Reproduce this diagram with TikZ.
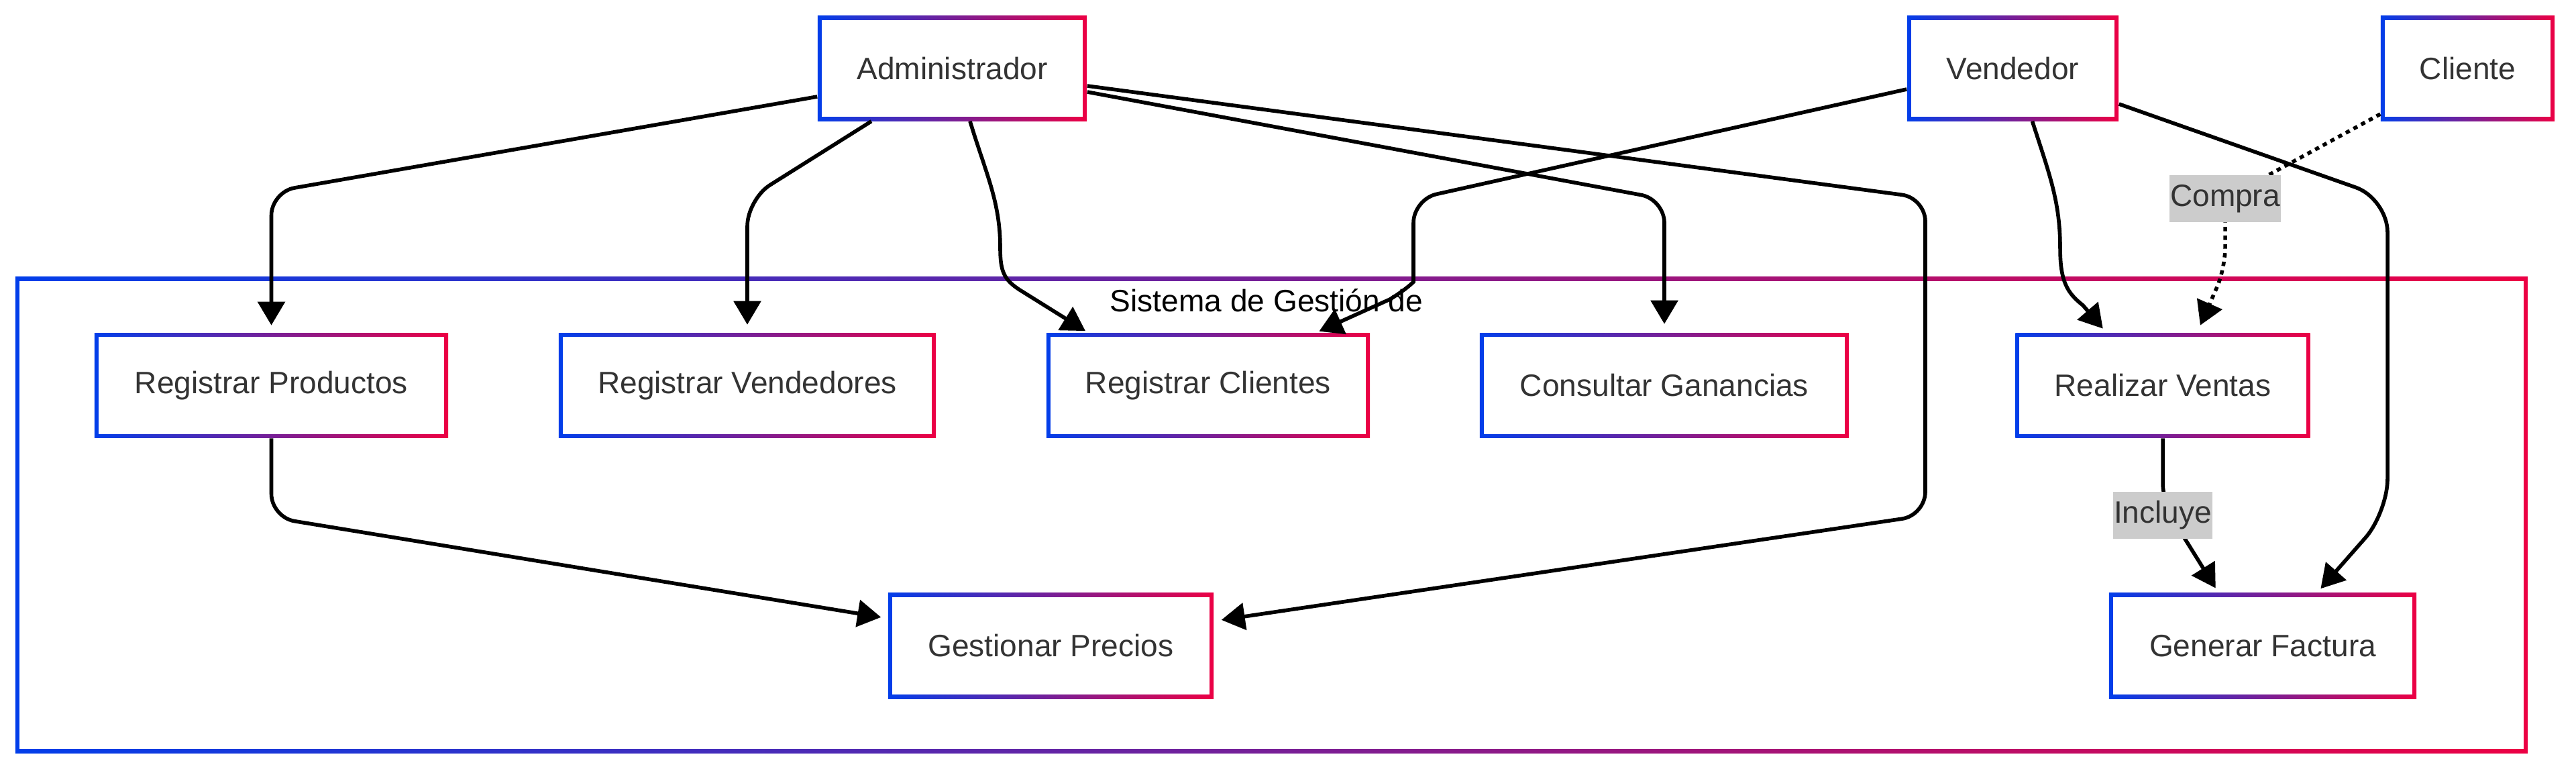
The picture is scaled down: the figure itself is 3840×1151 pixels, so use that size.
\documentclass[tikz,border=0pt]{standalone}
\usepackage{fontspec}
\setmainfont{Liberation Sans}
\usetikzlibrary{arrows.meta}
\definecolor{gblue}{RGB}{2,62,234}
\definecolor{gred}{RGB}{236,0,68}
\definecolor{txt}{HTML}{333333}
\definecolor{lblgray}{HTML}{CCCCCC}
\newcommand\dgfont{\fontsize{13.1pt}{15.7pt}\selectfont}
\tikzset{
  gbox/.style={rectangle, inner sep=0pt, minimum height=1.56cm,
    left color=gblue, right color=gred, text=txt, font=\dgfont,
    path picture={\fill[white]
      ([xshift=0.06cm,yshift=-0.06cm]path picture bounding box.north west)
      rectangle
      ([xshift=-0.06cm,yshift=0.06cm]path picture bounding box.south east);}},
  arr/.style={draw=black, line width=0.056cm, -{Triangle[length=0.35cm,width=0.40cm]}},
  dotarr/.style={arr, dash pattern=on 0.065cm off 0.065cm},
  elabel/.style={fill=lblgray, text=txt, font=\dgfont, inner xsep=0.01cm, inner ysep=0pt, minimum height=0.70cm},
}
\begin{document}
\begin{tikzpicture}[x=0.01cm, y=-0.01cm]
\useasboundingbox[fill=white] (0,0) rectangle (3840,1151);

% cluster
\node[gbox, minimum width=37.43cm, minimum height=7.09cm] (sys) at (1895.5,767.5) {};
\node[anchor=base, font=\dgfont, text=black] (title) at (1888,464) {Sistema de Gestión de};

% actors
\node[gbox, minimum width=4.01cm] (A) at (1419.5,102) {Administrador};
\node[gbox, minimum width=3.15cm] (V) at (3000.5,102) {Vendedor};
\node[gbox, minimum width=2.59cm] (Cl) at (3678.5,102) {Cliente};

% use cases
\node[gbox, minimum width=5.27cm] (RP) at (404.5,574.5) {Registrar Productos};
\node[gbox, minimum width=5.62cm] (RVd) at (1114,574.5) {Registrar Vendedores};
\node[gbox, minimum width=4.82cm] (RC) at (1801,574.5) {Registrar Clientes};
\node[gbox, minimum width=5.50cm] (CG) at (2481,574.5) {Consultar Ganancias};
\node[gbox, minimum width=4.39cm] (RVt) at (3224,574.5) {Realizar Ventas};
\node[gbox, minimum width=4.85cm, minimum height=1.57cm] (GP) at (1566.5,962.5) {Gestionar Precios};
\node[gbox, minimum width=4.58cm, minimum height=1.57cm] (GF) at (3373,962.5) {Generar Factura};

% edges from Administrador
\draw[arr, rounded corners=0.35cm, shorten >=0.11cm]
  ([yshift=-0.42cm]A.west) -- (404.5,286) -- (RP.north);
\draw[arr, rounded corners=0.4cm, shorten >=0.12cm]
  ([xshift=-1.205cm]A.south) -- (1114,297) -- (RVd.north);
\draw[arr, shorten >=0.05cm]
  ([xshift=0.265cm]A.south) .. controls (1470,260) and (1491,300) .. (1491,370)
  .. controls (1491,405) and (1497,417) .. (1520,432) -- ([xshift=0.63cm]RC.north west);
\draw[arr, rounded corners=0.35cm, shorten >=0.13cm]
  ([yshift=-0.35cm]A.east) -- (2481,297) -- (CG.north);
\draw[arr, rounded corners=0.35cm, shorten >=0.11cm]
  ([yshift=-0.26cm]A.east) -- (2870,295) -- (2870,768) -- ([yshift=0.37cm]GP.east);

% edges from Vendedor
\draw[arr, shorten >=0.05cm]
  ([yshift=-0.31cm]V.west) [rounded corners=0.35cm] -- (2107,297) -- (2107,385) [sharp corners]
  .. controls (2107,420) and (2098,430) .. (2072,446) -- ([xshift=-0.81cm]RC.north east);
\draw[arr, shorten >=0.08cm]
  ([xshift=0.29cm]V.south) .. controls (3055,260) and (3071,300) .. (3071,370)
  .. controls (3071,420) and (3082,437) .. (3105,455) -- ([xshift=-0.84cm]RVt.north);
\draw[arr, rounded corners=0.5cm, shorten >=0.08cm]
  ([yshift=-0.53cm]V.east) -- (3559,296) -- (3559,764) -- ([xshift=0.81cm]GF.north);

% Cliente -> Realizar Ventas
\draw[dotarr, rounded corners=0.3cm, shorten >=0.12cm]
  ([yshift=-0.68cm]Cl.west) -- (3317,296) -- (3317,400) -- ([xshift=0.51cm]RVt.north);
\node[elabel] (compra) at (3317,296) {Compra};

% Realizar Ventas -> Generar Factura
\draw[arr, rounded corners=0.3cm, shorten >=0.08cm]
  (RVt.south) -- (3224,750) -- ([xshift=-0.66cm]GF.north);
\node[elabel] (incluye) at (3224,768) {Incluye};

% Registrar Productos -> Gestionar Precios
\draw[arr, rounded corners=0.35cm, shorten >=0.1cm]
  (RP.south) -- (404.5,771) -- ([yshift=0.41cm]GP.west);
\end{tikzpicture}
\end{document}
